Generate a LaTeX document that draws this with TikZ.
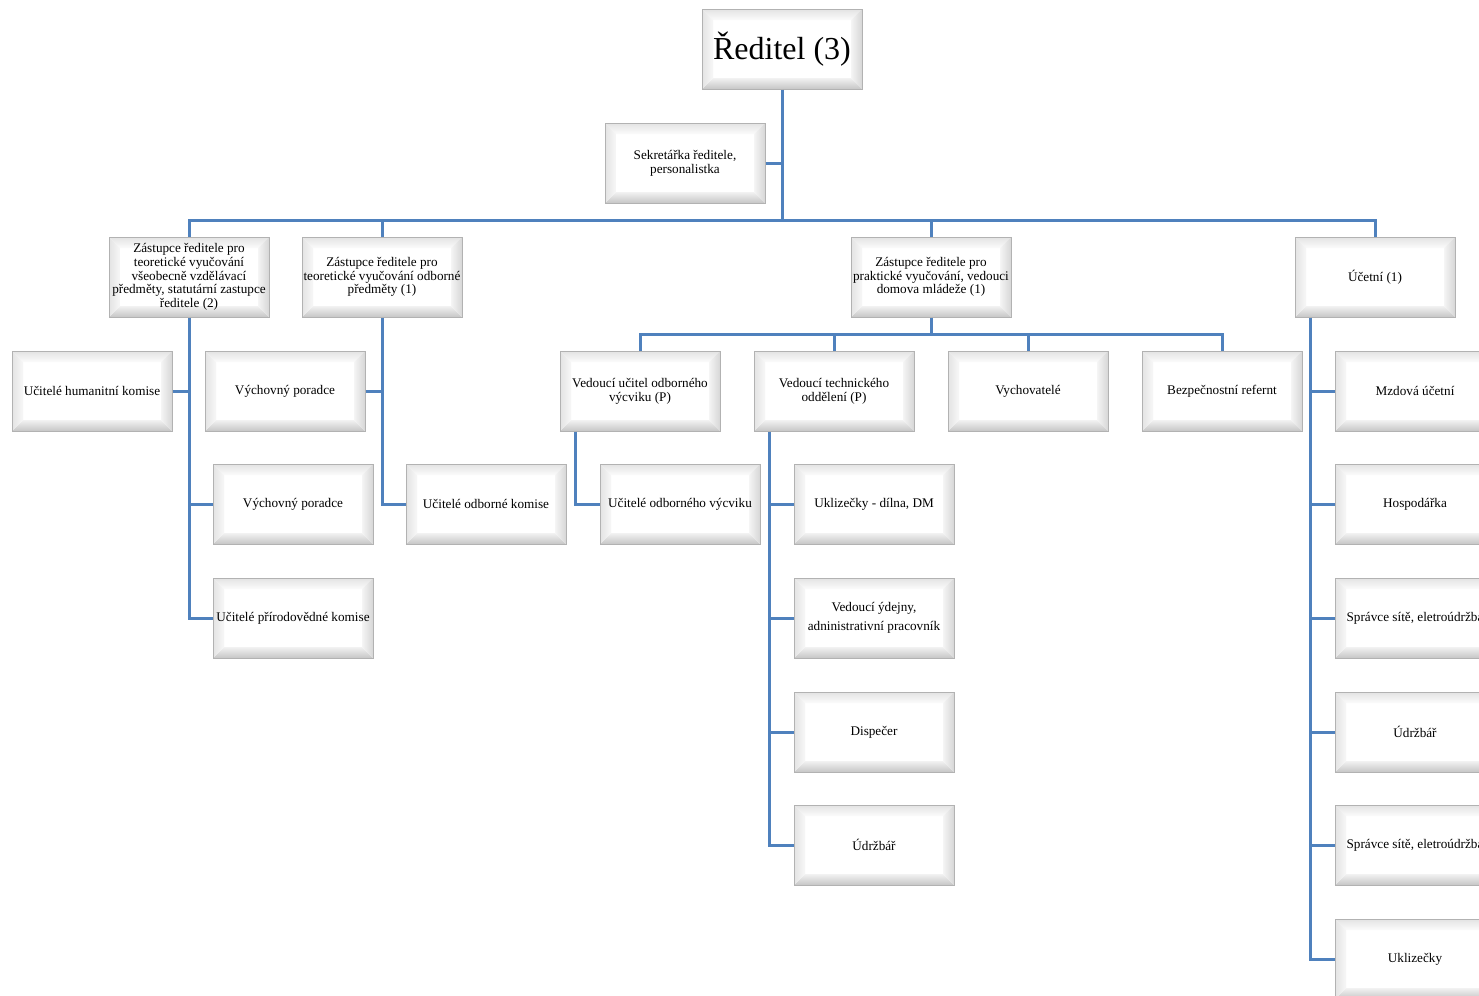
\documentclass[tikz,border=0pt]{standalone}
\usepackage{fontspec}
\setmainfont{Liberation Serif}
\definecolor{linkblue}{RGB}{79,129,189}

\tikzset{
  box/.style = {rectangle, draw = gray!60, line width = 0.5pt, fill = white,
    minimum width = 80pt, minimum height = 40pt, inner sep = 0.3pt, align = center,
    font = \fontsize{6.6}{6.9}\selectfont,
    path picture = {
      \coordinate (bnw) at (path picture bounding box.north west);
      \coordinate (bne) at (path picture bounding box.north east);
      \coordinate (bsw) at (path picture bounding box.south west);
      \coordinate (bse) at (path picture bounding box.south east);
      \coordinate (inw) at ([shift = {(5.5pt, -5.5pt)}]bnw);
      \coordinate (ine) at ([shift = {(-5.5pt, -5.5pt)}]bne);
      \coordinate (isw) at ([shift = {(5.5pt, 5.5pt)}]bsw);
      \coordinate (ise) at ([shift = {(-5.5pt, 5.5pt)}]bse);
      \shade[top color = gray!22, bottom color = gray!3] (bnw) -- (bne) -- (ine) -- (inw) -- cycle;
      \shade[top color = gray!10, bottom color = gray!45] (bsw) -- (bse) -- (ise) -- (isw) -- cycle;
      \shade[left color = gray!22, right color = gray!6] (bnw) -- (bsw) -- (isw) -- (inw) -- cycle;
      \shade[left color = gray!8, right color = gray!32] (bne) -- (bse) -- (ise) -- (ine) -- cycle;
    }},
  conn/.style = {draw = linkblue, line width = 1.5pt},
}

\begin{document}
\begin{tikzpicture}[x = 0.5pt, y = -0.5pt]
\useasboundingbox (0, 0) rectangle (1479, 996);
\clip (0, 0) rectangle (1479, 996);

\coordinate (bus) at (0, 220);
\coordinate (bus2) at (0, 334);

% top
\node[box, font = \fontsize{16}{18}\selectfont] (reditel) at (782, 49) {Ředitel (3)};
\node[box] (sekretarka) at (685, 163) {Sekretářka ředitele,\\ personalistka};

% deputies
\node[box] (zr_vv) at (189, 277) {Zástupce ředitele pro\\ teoretické vyučování\\ všeobecně vzdělávací\\ předměty, statutární zastupce\\ ředitele (2)};
\node[box] (zr_odb) at (382, 277) {Zástupce ředitele pro\\ teoretické vyučování odborné\\ předměty (1)};
\node[box] (zr_prakt) at (931, 277) {Zástupce ředitele pro\\ praktické vyučování, vedouci\\ domova mládeže (1)};
\node[box] (ucetni) at (1375, 277) {Účetní (1)};

\node[box] (uc_hum) at (92, 391) {Učitelé humanitní komise};
\node[box] (porad_a) at (285, 391) {Výchovný poradce};
\node[box] (ved_uc) at (640, 391) {Vedoucí učitel odborného\\ výcviku (P)};
\node[box] (ved_tech) at (834, 391) {Vedoucí technického\\ oddělení (P)};
\node[box] (vychov) at (1028, 391) {Vychovatelé};
\node[box] (bezpec) at (1222, 391) {Bezpečnostní refernt};
\node[box] (mzdova) at (1415, 391) {Mzdová účetní};

\node[box] (porad_b) at (293, 504) {Výchovný poradce};
\node[box] (uc_odb) at (486, 504) {Učitelé odborné komise};
\node[box] (uc_vycvik) at (680, 504) {Učitelé odborného výcviku};
\node[box] (uklid_dilna) at (874, 504) {Uklizečky - dílna, DM};
\node[box] (hospod) at (1415, 504) {Hospodářka};

\node[box] (uc_prir) at (293, 618) {Učitelé přírodovědné komise};
\node[box] (vydejna) at (874, 618) {Vedoucí ýdejny,\\[2.6pt] adninistrativní pracovník};
\node[box] (spravce_a) at (1415, 618) {Správce sítě, eletroúdržba};

\node[box] (dispecer) at (874, 732) {Dispečer};
\node[box] (udrzbar_b) at (1415, 732) {Údržbář};

\node[box] (udrzbar_a) at (874, 845) {Údržbář};
\node[box] (spravce_b) at (1415, 845) {Správce sítě, eletroúdržba};

\node[box] (uklid) at (1415, 959) {Uklizečky};

% connectors
\draw[conn] (reditel.south) -- (reditel.south |- bus);
\draw[conn] (sekretarka.east) -- (sekretarka.east -| reditel.south);
\draw[conn] (zr_vv.north) -- (zr_vv.north |- bus) -- (ucetni.north |- bus) -- (ucetni.north);
\foreach \n in {zr_odb, zr_prakt}
  \draw[conn] (\n.north) -- (\n.north |- bus);

\draw[conn] (zr_vv.south) |- (uc_prir.west);
\draw[conn] (uc_hum.east) -- (uc_hum.east -| zr_vv.south);
\draw[conn] (porad_b.west) -- (porad_b.west -| zr_vv.south);

\draw[conn] (zr_odb.south) |- (uc_odb.west);
\draw[conn] (porad_a.east) -- (porad_a.east -| zr_odb.south);

\draw[conn] (zr_prakt.south) -- (zr_prakt.south |- bus2);
\draw[conn] (ved_uc.north) -- (ved_uc.north |- bus2) -- (bezpec.north |- bus2) -- (bezpec.north);
\foreach \n in {ved_tech, vychov}
  \draw[conn] (\n.north) -- (\n.north |- bus2);

\coordinate (uc_line) at ([xshift = 8pt]ved_uc.south west);
\draw[conn] (uc_line) |- (uc_vycvik.west);

\coordinate (tech_line) at ([xshift = 8pt]ved_tech.south west);
\draw[conn] (tech_line) |- (udrzbar_a.west);
\foreach \n in {uklid_dilna, vydejna, dispecer}
  \draw[conn] (\n.west) -- (\n.west -| tech_line);

\coordinate (ucet_line) at ([xshift = 8pt]ucetni.south west);
\draw[conn] (ucet_line) |- (uklid.west);
\foreach \n in {mzdova, hospod, spravce_a, udrzbar_b, spravce_b}
  \draw[conn] (\n.west) -- (\n.west -| ucet_line);

\end{tikzpicture}
\end{document}
